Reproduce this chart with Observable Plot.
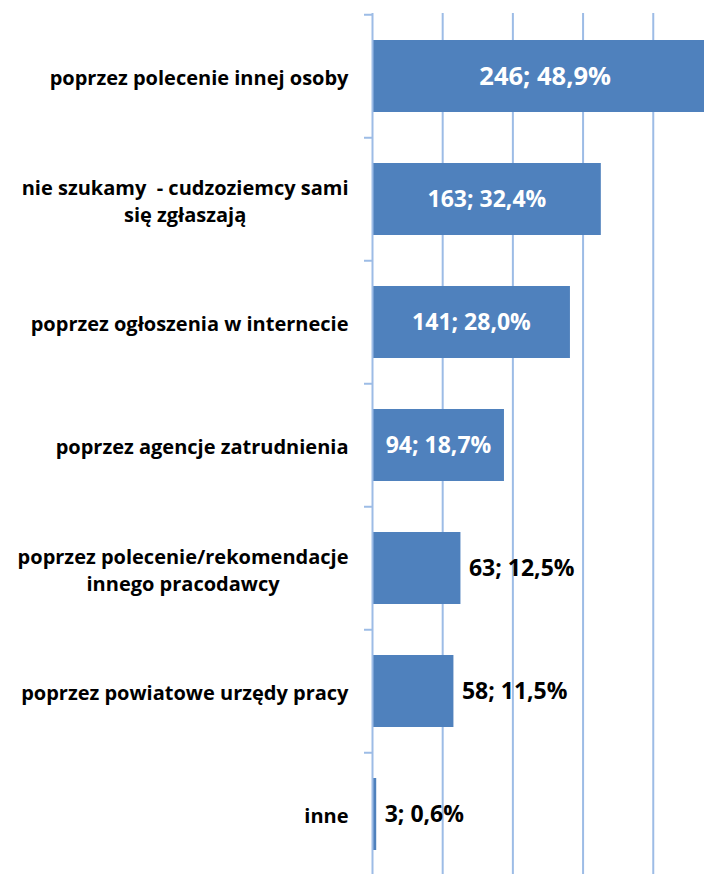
<!DOCTYPE html>
<html><head><meta charset="utf-8">
<script src="https://cdn.jsdelivr.net/npm/d3@7"></script>
<script src="https://cdn.jsdelivr.net/npm/@observablehq/plot@0.6"></script>
<style>
html,body{margin:0;padding:0;background:#fff;overflow:hidden}
#chart svg text{white-space:pre}
</style>
</head><body><div id="chart"></div>
<script>
const categories = [
  "poprzez polecenie innej osoby",
  "nie szukamy  - cudzoziemcy sami\nsię zgłaszają",
  "poprzez ogłoszenia w internecie",
  "poprzez agencje zatrudnienia",
  "poprzez polecenie/rekomendacje\ninnego pracodawcy",
  "poprzez powiatowe urzędy pracy",
  "inne"
];
const counts = [246, 163, 141, 94, 63, 58, 3];
const percents = ["48,9%", "32,4%", "28,0%", "18,7%", "12,5%", "11,5%", "0,6%"];
const gridTicks = [50, 100, 150, 200];

const data = categories.map((c, i) => ({cat: c, count: counts[i], label: `${counts[i]}; ${percents[i]}`}));

const FONT = "'Open Sans', sans-serif";
const catSize = 20, valSize = 23, firstValSize = 25.5;
const barColor = "#4f81bd", gridColor = "#9dbce6";
const W = 704, H = 874, ML = 372;
const yRange = [12.75, 877.25];
const step = (yRange[1] - yRange[0]) / categories.length;

const ctx = document.createElement("canvas").getContext("2d");
ctx.font = `bold ${catSize}px ${FONT}`;
const blockWidth = s => Math.max(...s.split("\n").map(l => ctx.measureText(l).width));

const labelMarks = data.map(d => Plot.text([d], {
  frameAnchor: "left", y: "cat", text: "cat",
  textAnchor: "middle", dx: -(24 + blockWidth(d.cat) / 2),
  fontSize: catSize, fontWeight: 700, fontFamily: FONT, fill: "#000", lineHeight: 1.38
}));

const chart = Plot.plot({
  width: W, height: H,
  marginLeft: ML, marginRight: 0, marginTop: 13, marginBottom: 0,
  style: {fontFamily: FONT, background: "#fff"},
  x: {domain: [0, 236.5], axis: null},
  y: {domain: categories, range: yRange, paddingInner: 0.413, paddingOuter: 0.2065, axis: null},
  marks: [
    Plot.ruleX(gridTicks, {stroke: gridColor, strokeWidth: 2}),
    Plot.barX(data, {y: "cat", x: "count", fill: barColor, clip: true}),
    Plot.ruleX([0], {stroke: gridColor, strokeWidth: 2}),
    Plot.axisY({tickSize: 8, tickFormat: () => "", dy: -step / 2, stroke: gridColor, strokeWidth: 2, label: null}),
    ...labelMarks,
    Plot.text(data.filter(d => d.count >= 90), {
      x: d => d.count / 2, y: "cat", text: "label", fill: "#fff",
      fontSize: d => d === data[0] ? firstValSize : valSize, fontWeight: 700, fontFamily: FONT
    }),
    Plot.text(data.filter(d => d.count < 90), {
      x: "count", y: "cat", text: "label", fill: "#000", textAnchor: "start", dx: 8,
      fontSize: valSize, fontWeight: 700, fontFamily: FONT
    })
  ]
});
document.getElementById("chart").appendChild(chart);
</script>
</body></html>
